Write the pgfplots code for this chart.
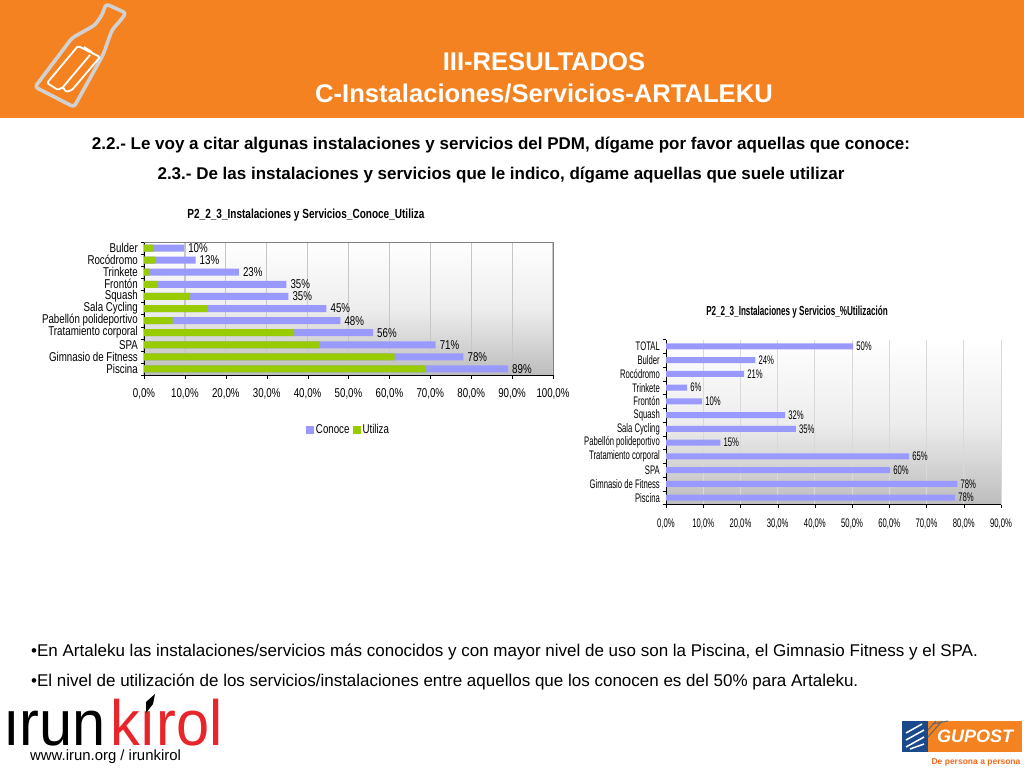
\documentclass[border=0pt]{standalone}
\usepackage{fontspec}
\usepackage{pgfplots}
\pgfplotsset{compat=1.18}
\setmainfont{Liberation Sans}
\newfontfamily\narrow[FakeStretch=0.76]{Liberation Sans}
\newfontfamily\slimfont[FakeStretch=0.62]{Liberation Sans}
\newfontfamily\logofont[FakeStretch=0.93]{Liberation Sans}
\definecolor{headorange}{HTML}{F58220}
\definecolor{conoce}{HTML}{9999FF}
\definecolor{utiliza}{HTML}{99CC00}
\definecolor{irunred}{HTML}{E8252A}
\definecolor{gublue}{HTML}{1B4A8C}
\newcommand{\fs}[1]{\fontsize{#1}{#1}\selectfont}
\pgfplotsset{
  chart/.style={
    scale only axis,
    xbar, bar shift=0pt,
    xmin=0,
    axis x line*=bottom, axis y line*=left,
    xmajorgrids,
    tick align=outside,
    major tick length=0pt, minor tick length=3.5pt,
    tick style={black},
    axis line style={black},
    xtick pos=bottom, ytick pos=left,
    /pgf/number format/assume math mode=true,
    axis background/.style={top color=white,bottom color=black!26,middle color=black!7},
    y tick label style={inner sep=0pt,xshift=-6pt},
    every node near coord/.append style={inner sep=0pt,xshift=4pt},
    legend image code/.code={\fill[##1] (0pt,-4pt) rectangle (8pt,4pt);},
  },
  pct/.style={nodes near coords={\pgfmathprintnumber[fixed,precision=0]{\pgfplotspointmeta}\%},point meta=x},
}
\begin{document}
\begin{tikzpicture}[x=1pt,y=-1pt]
\path[use as bounding box] (0,0) rectangle (1024,768);
\fill[headorange] (0,0) rectangle (1024,118);
% bottle
\draw[black!18,line width=3.6pt,rounded corners=3pt,line join=round]
  (106,4) -- (126,13) -- (120,21) -- (112,30) -- (103,55) -- (74,107) -- (35,87) -- (72,38) -- (95,25) -- (102,15) -- cycle;
\draw[white,line width=1.8pt,rounded corners=1.5pt,line join=round]
  (78,46) -- (100,57) -- (72,90) -- (66,92) -- (63,87) -- (58,90) -- (47,83) -- cycle (90,55) -- (63,87) (84,47) -- (92,52);
% heading
\node[white,font=\bfseries\fs{25.6}] at (544,62) {III-RESULTADOS};
\node[white,font=\bfseries\fs{25.6}] at (544,93.5) {C-Instalaciones/Servicios-ARTALEKU};
\node[font=\bfseries\fs{17}] at (501,145) {2.2.- Le voy a citar algunas instalaciones y servicios del PDM, dígame por favor aquellas que conoce:};
\node[font=\bfseries\fs{17}] at (501,175) {2.3.- De las instalaciones y servicios que le indico, dígame aquellas que suele utilizar};

\begin{axis}[chart,
  at={(144pt,-375pt)}, anchor=south west,
  width=409pt, height=133pt,
  bar width=7pt,
  xmax=100, ymin=0.5, ymax=11.5,
  font=\narrow\fs{12.8},
  grid style={draw=black!22,line width=1.2pt},
  title={\bfseries\narrow\fs{13.2}P2\_2\_3\_Instalaciones y Servicios\_Conoce\_Utiliza},
  title style={at={(0.396,1.218)},anchor=center,inner sep=0pt,yshift=-8pt},
  x tick label style={inner sep=0pt,yshift=-13pt},
  xtick={0,10,...,100}, minor xtick={0,10,...,100},
  xticklabels={{0,0\%},{10,0\%},{20,0\%},{30,0\%},{40,0\%},{50,0\%},{60,0\%},{70,0\%},{80,0\%},{90,0\%},{100,0\%}},
  ytick={1,...,11}, minor ytick={0.5,1.5,...,11.5},
  yticklabels={Piscina,Gimnasio de Fitness,SPA,Tratamiento corporal,Pabellón polideportivo,Sala Cycling,Squash,Frontón,Trinkete,Rocódromo,Bulder},
  legend style={at={(0.5,-0.41)},anchor=center,draw=none,fill=none,legend columns=2,font=\narrow\fs{12.8},nodes={text height=10pt,text depth=3pt},/tikz/every even column/.append style={column sep=1pt}},
  after end axis/.code={\draw[gray] (rel axis cs:0,1)--(rel axis cs:1,1)--(rel axis cs:1,0);},
]
\addplot[draw=none,fill=conoce,pct] coordinates {
  (89,1) (78.1,2) (71.3,3) (56,4) (48,5) (44.6,6) (35.3,7) (34.8,8) (23.2,9) (12.6,10) (9.8,11)};
\addlegendentry{Conoce}
\addplot[draw=none,fill=utiliza] coordinates {
  (69,1) (61.3,2) (43,3) (36.7,4) (7,5) (15.5,6) (11.3,7) (3.3,8) (1.3,9) (2.7,10) (2.4,11)};
\addlegendentry{Utiliza}
\end{axis}

\begin{axis}[chart,
  at={(666pt,-504.5pt)}, anchor=south west,
  width=335pt, height=165pt,
  bar width=6pt,
  xmax=90, ymin=0.5, ymax=12.5,
  font=\slimfont\fs{12.4},
  grid style={draw=black!15,line width=0.8pt},
  title={\bfseries\slimfont\fs{13.1}P2\_2\_3\_Instalaciones y Servicios\_\%Utilización},
  title style={at={(0.391,1.173)},anchor=center,inner sep=0pt,yshift=-7pt},
  x tick label style={inner sep=0pt,yshift=-14pt},
  xtick={0,10,...,90}, minor xtick={0,10,...,90},
  xticklabels={{0,0\%},{10,0\%},{20,0\%},{30,0\%},{40,0\%},{50,0\%},{60,0\%},{70,0\%},{80,0\%},{90,0\%}},
  ytick={1,...,12}, minor ytick={0.5,1.5,...,12.5},
  yticklabels={Piscina,Gimnasio de Fitness,SPA,Tratamiento corporal,Pabellón polideportivo,Sala Cycling,Squash,Frontón,Trinkete,Rocódromo,Bulder,TOTAL},
  every node near coord/.append style={xshift=-1pt},
]
\addplot[draw=none,fill=conoce,pct] coordinates {
  (77.7,1) (78.3,2) (60.2,3) (65.3,4) (14.6,5) (34.9,6) (32,7) (9.7,8) (5.7,9) (21,10) (24,11) (50.3,12)};
\end{axis}

\node[anchor=west,inner sep=0pt,font=\fs{17}] at (31,651.5) {•En Artaleku las instalaciones/servicios más conocidos y con mayor nivel de uso son la Piscina, el Gimnasio Fitness y el SPA.};
\node[anchor=west,inner sep=0pt,font=\fs{17}] at (31,681.5) {•El nivel de utilización de los servicios/instalaciones entre aquellos que los conocen es del 50\% para Artaleku.};

% irunkirol logo
\node[anchor=base west,inner sep=0pt,font=\logofont\fs{64}] at (3,745) {ırun};
\node[anchor=base west,inner sep=0pt,font=\logofont\fs{64},text=irunred] at (110,745) {kırol};
\fill[black] (146,702) -- (155,694) -- (153,704) -- (146,713) -- cycle;
\node[anchor=west,inner sep=0pt,font=\fs{14.9}] at (30,757) {www.irun.org / irunkirol};
% gupost logo
\fill[gublue] (902,721) rectangle (928,752);
\draw[white,line width=1.5pt] (906,733) -- (922,724) (906,740) -- (924,730) (906,747) -- (924,737) (910,749) -- (924,744);
\fill[headorange] (928,721) rectangle (1022,752);
\draw[black!60,line width=1pt] (928,730) -- (936,721) (928,737) -- (942,721) (932,724) -- (948,721);
\node[white,font=\bfseries\itshape\fs{18}] at (975,736) {GUPOST};
\node[text=headorange!80!red,font=\bfseries\fs{8.5}] at (976,762) {De persona a persona};
\end{tikzpicture}
\end{document}
